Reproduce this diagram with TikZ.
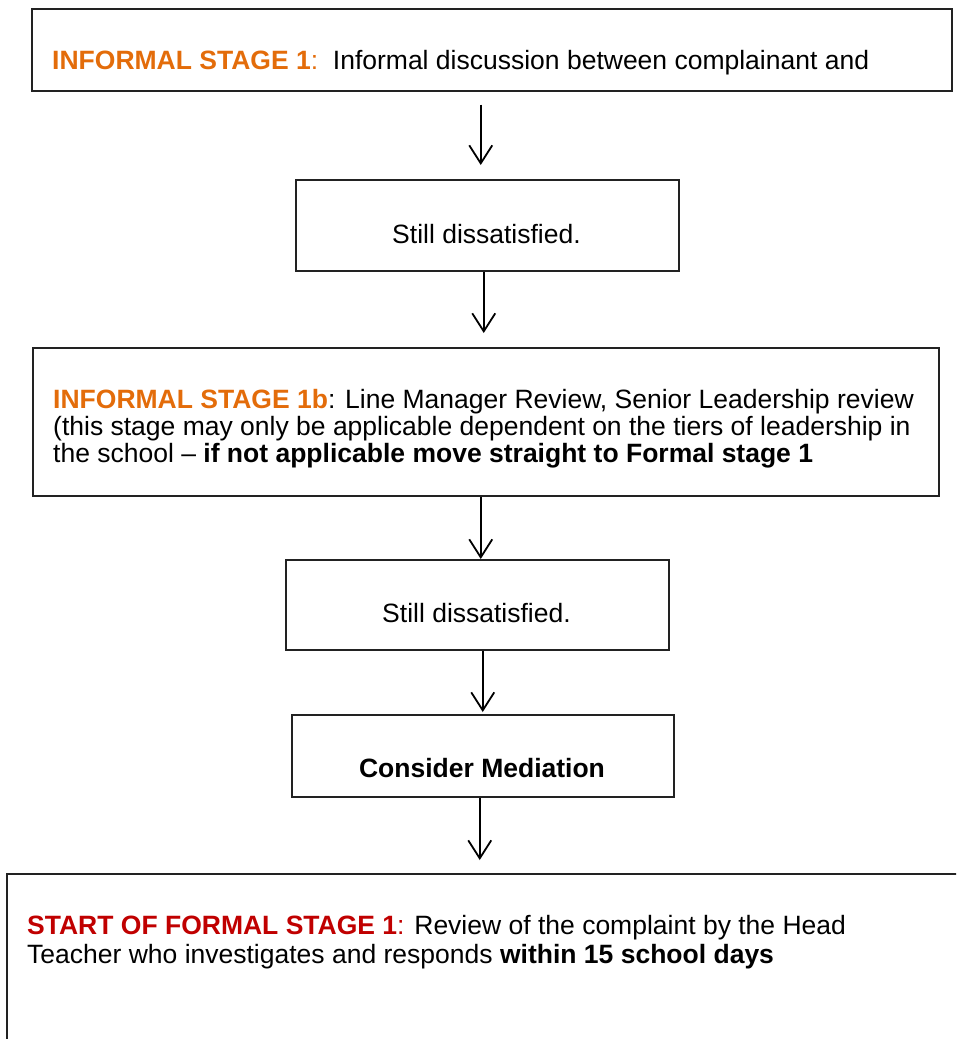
\documentclass[tikz,border=0pt]{standalone}
\usepackage{fontspec}
\setmainfont{Liberation Sans}
\usetikzlibrary{arrows.meta}
\definecolor{stageorange}{HTML}{E36C0A}
\definecolor{stagered}{HTML}{C00000}
\definecolor{boxline}{HTML}{222222}
\begin{document}
\begin{tikzpicture}[x=1pt,y=-1pt,
  box/.style={draw=boxline,line width=1.5pt,inner sep=0pt,anchor=north west},
  txt/.style={inner sep=0pt,anchor=base west,font=\fontsize{26.5}{27}\selectfont,align=left},
  ctxt/.style={inner sep=0pt,anchor=base,font=\fontsize{26.5}{27}\selectfont},
  arr/.style={draw=black,line width=1.8pt,-{Straight Barb[length=18pt,width=23pt,line width=1.8pt]}}]
\useasboundingbox (0,0) rectangle (956,1039);
\clip (0,0) rectangle (956,1039);
% boxes
\node[box,minimum width=920pt,minimum height=82pt] (b1) at (31,8) {};
\node[box,minimum width=383pt,minimum height=91pt] (b2) at (295,179) {};
\node[box,minimum width=906pt,minimum height=148pt] (b3) at (32,347) {};
\node[box,minimum width=383pt,minimum height=90pt] (b4) at (285,559) {};
\node[box,minimum width=382pt,minimum height=82pt] (b5) at (291,714) {};
\node[box,minimum width=964pt,minimum height=190pt] (b6) at (6,873) {};
% texts
\node[txt] (t1) at (52,69) {\textcolor{stageorange}{\textbf{INFORMAL STAGE 1}:}\ \ Informal discussion between complainant and};
\node[ctxt] (t2) at (486.5,243) {Still dissatisfied.};
\node[txt] (t3) at (53,462) {\textcolor{stageorange}{\textbf{INFORMAL STAGE 1b}}: Line Manager Review, Senior Leadership review\\(this stage may only be applicable dependent on the tiers of leadership in\\the school -- \textbf{if not applicable move straight to Formal stage 1}};
\node[ctxt] (t4) at (476.5,622) {Still dissatisfied.};
\node[ctxt] (t5) at (482,777) {\textbf{Consider Mediation}};
\node[txt,font=\fontsize{26.5}{28.5}\selectfont] (t6) at (27,963) {\textcolor{stagered}{\textbf{START OF FORMAL STAGE 1}:} Review of the complaint by the Head\\Teacher who investigates and responds \textbf{within 15 school days}};
% arrows
\draw[arr] ([xshift=-11pt,yshift=-13pt]b1.south) -- ([xshift=-6.5pt,yshift=14pt]b2.north);
\draw[arr] ([xshift=-3.5pt]b2.south) -- ([xshift=-2pt,yshift=14pt]b3.north);
\draw[arr] ([xshift=-5pt]b3.south) -- ([xshift=3.5pt]b4.north);
\draw[arr] ([xshift=5.5pt]b4.south) -- ([yshift=2pt]b5.north);
\draw[arr] ([xshift=-3pt]b5.south) -- ([xshift=-9pt,yshift=13pt]b6.north);
\end{tikzpicture}
\end{document}
